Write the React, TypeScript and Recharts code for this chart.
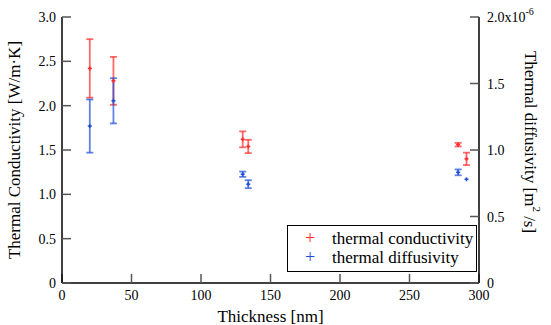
import { ComposedChart, Scatter, XAxis, YAxis, ErrorBar } from "recharts";

// thickness [nm]
const thickness = [20, 37, 130, 134, 285, 291];
// thermal conductivity [W/m·K] and its error
const conductivity = [2.42, 2.28, 1.62, 1.54, 1.56, 1.4];
const conductivityErr = [0.33, 0.27, 0.09, 0.075, 0.02, 0.07];
// thermal diffusivity [m²/s] and its error
const diffusivity = [1.18e-6, 1.37e-6, 0.818e-6, 0.743e-6, 0.832e-6, 0.78e-6];
const diffusivityErr = [0.2e-6, 0.17e-6, 0.02e-6, 0.03e-6, 0.022e-6, 0];

const xTicks = [0, 50, 100, 150, 200, 250, 300];
const leftTicks = [0, 0.5, 1, 1.5, 2, 2.5, 3];
const rightTicks = [0, 0.5e-6, 1e-6, 1.5e-6, 2e-6];

const RED = "#ff2a2a";
const BLUE = "#1f4fd8";
const FONT = "'Liberation Serif', 'Times New Roman', serif";
const INK = "#000";

const condData = thickness.map((x, i) => ({ x, cond: conductivity[i], err: conductivityErr[i] }));
const diffData = thickness.map((x, i) => ({ x, diff: diffusivity[i], err: diffusivityErr[i] }));

const plus = (color: string) => (p: any) => (
  <g stroke={color} strokeWidth={1.5}>
    <line x1={p.cx - 2} x2={p.cx + 2} y1={p.cy} y2={p.cy} />
    <line x1={p.cx} x2={p.cx} y1={p.cy - 2} y2={p.cy + 2} />
  </g>
);

const RightTick = (props: any) => {
  const { x, y, payload } = props;
  const v = payload.value;
  if (v >= 2e-6) {
    return (
      <text x={x} y={y} dy={5} textAnchor="start" fontSize={14} fontFamily={FONT} fill={INK}>
        2.0x10
        <tspan dy={-7} fontSize={10}>-6</tspan>
      </text>
    );
  }
  return (
    <text x={x} y={y} dy={5} textAnchor="start" fontSize={14} fontFamily={FONT} fill={INK}>
      {v === 0 ? "0" : (v / 1e-6).toFixed(1)}
    </text>
  );
};

export default function App() {
  return (
    <div style={{ position: "absolute", left: 0, top: 0, width: 551, height: 325, background: "#fff" }}>
      <ComposedChart width={551} height={325} margin={{ top: 17, right: 0, bottom: 0, left: 0 }}>
        <XAxis
          type="number"
          dataKey="x"
          domain={[0, 300]}
          ticks={xTicks}
          height={42}
          tickSize={-9}
          tickMargin={16}
          axisLine={{ stroke: "#000", strokeWidth: 1.5 }}
          tickLine={{ stroke: "#555", strokeWidth: 1.5 }}
          tick={{ fontSize: 14, fontFamily: FONT, fill: INK }}
          label={{
            value: "Thickness [nm]",
            position: "insideBottom",
            offset: 0,
            dy: -3,
            style: { fontSize: 17, fontFamily: FONT, fill: INK },
          }}
        />
        <YAxis
          yAxisId="left"
          dataKey="cond"
          type="number"
          domain={[0, 3]}
          ticks={leftTicks}
          width={62}
          tickSize={-9}
          tickMargin={15}
          axisLine={{ stroke: "#000", strokeWidth: 1.5 }}
          tickLine={{ stroke: "#555", strokeWidth: 1.5 }}
          tick={{ fontSize: 14, fontFamily: FONT, fill: INK }}
          tickFormatter={(v: number) => (v === 0 ? "0" : v.toFixed(1))}
          label={{
            value: "Thermal Conductivity [W/m·K]",
            angle: -90,
            position: "insideLeft",
            offset: 0,
            dx: 14,
            dy: 0,
            style: { fontSize: 17, fontFamily: FONT, fill: INK, textAnchor: "middle" },
          }}
        />
        <YAxis
          yAxisId="right"
          dataKey="diff"
          orientation="right"
          type="number"
          domain={[0, 2e-6]}
          ticks={rightTicks}
          width={72}
          tickSize={-9}
          tickMargin={17}
          axisLine={{ stroke: "#000", strokeWidth: 1.5 }}
          tickLine={{ stroke: "#555", strokeWidth: 1.5 }}
          tick={<RightTick />}
          label={{
            content: () => (
              <text
                x={530}
                y={142}
                transform="rotate(90 530 142)"
                textAnchor="middle"
                dominantBaseline="central"
                fontSize={17}
                fontFamily={FONT}
                fill={INK}
              >
                Thermal diffusivity [m
                <tspan dy={-7} fontSize={11}>2</tspan>
                <tspan dy={7}> /s]</tspan>
              </text>
            ),
          }}
        />
        <Scatter
          yAxisId="left"
          data={condData}
          dataKey="cond"
          isAnimationActive={false}
          shape={plus(RED)}
        >
          <ErrorBar dataKey="err" direction="y" width={3.5} stroke={RED} strokeWidth={1.8} strokeOpacity={0.7} />
        </Scatter>
        <Scatter
          yAxisId="right"
          data={diffData}
          dataKey="diff"
          isAnimationActive={false}
          shape={plus(BLUE)}
        >
          <ErrorBar dataKey="err" direction="y" width={3.5} stroke={BLUE} strokeWidth={1.8} strokeOpacity={0.7} />
        </Scatter>
      </ComposedChart>
      <div
        style={{
          position: "absolute",
          left: 287,
          top: 225,
          width: 190,
          height: 47,
          border: "1px solid #000",
          background: "#fff",
          fontFamily: FONT,
          fontSize: 17,
          color: INK,
          boxSizing: "border-box",
          padding: "3px 0 0 0",
          lineHeight: "19px",
        }}
      >
        <div style={{ display: "flex", alignItems: "center" }}>
          <span style={{ color: RED, width: 44, textAlign: "center", fontSize: 18 }}>+</span>
          <span>thermal conductivity</span>
        </div>
        <div style={{ display: "flex", alignItems: "center" }}>
          <span style={{ color: BLUE, width: 44, textAlign: "center", fontSize: 18 }}>+</span>
          <span>thermal diffusivity</span>
        </div>
      </div>
    </div>
  );
}
